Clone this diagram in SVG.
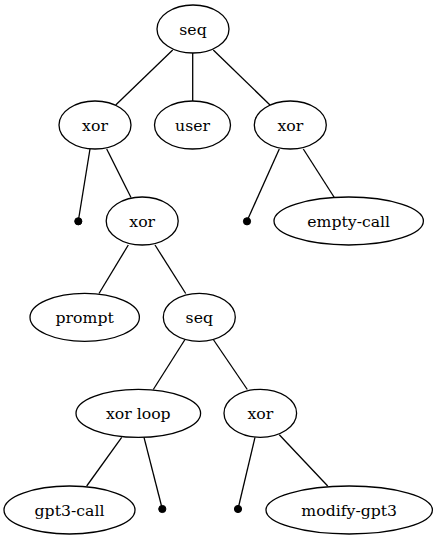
<svg xmlns="http://www.w3.org/2000/svg" width="437" height="539" viewBox="0 0 437 539">
<style>
.n ellipse{fill:none;stroke:#000;stroke-width:1.3}
.n text{font-family:'DejaVu Serif',serif;font-size:15.7px;text-anchor:middle;fill:#000}
.p circle{fill:#000;stroke:#000;stroke-width:1}
#edges line{stroke:#000;stroke-width:1.3}
</style>
<rect width="437" height="539" fill="#fff"/>
<g id="edges">
<line x1="172.7" y1="50" x2="115.7" y2="105"/>
<line x1="192.7" y1="53" x2="192.7" y2="101"/>
<line x1="213.3" y1="50" x2="270" y2="105"/>
<line x1="90" y1="149" x2="78.3" y2="221"/>
<line x1="106.7" y1="149" x2="131" y2="197.5"/>
<line x1="279.3" y1="149" x2="247" y2="221"/>
<line x1="303.3" y1="149" x2="334.3" y2="197.5"/>
<line x1="128.3" y1="245" x2="99" y2="293.5"/>
<line x1="155" y1="245" x2="185.7" y2="293.5"/>
<line x1="185" y1="339.5" x2="153.3" y2="389.5"/>
<line x1="213.3" y1="339.5" x2="247.3" y2="389.5"/>
<line x1="121.7" y1="437.3" x2="86.7" y2="486"/>
<line x1="144" y1="437.3" x2="162.3" y2="509"/>
<line x1="255" y1="437.3" x2="238" y2="509"/>
<line x1="279.3" y1="434.7" x2="327.7" y2="486"/>
</g>
<g id="seq1" class="n"><ellipse cx="193" cy="29" rx="36" ry="24"/><text x="193" y="35">seq</text></g>
<g id="xor1" class="n"><ellipse cx="95" cy="125" rx="36" ry="24"/><text x="95" y="131">xor</text></g>
<g id="user" class="n"><ellipse cx="192.5" cy="125" rx="38" ry="24"/><text x="192.5" y="131">user</text></g>
<g id="xor2" class="n"><ellipse cx="290.3" cy="125" rx="36" ry="24"/><text x="290.3" y="131">xor</text></g>
<g id="tau1" class="p"><circle cx="78.3" cy="221.3" r="3.6"/></g>
<g id="xor3" class="n"><ellipse cx="142.2" cy="221" rx="36" ry="24"/><text x="142.2" y="227">xor</text></g>
<g id="tau2" class="p"><circle cx="247" cy="221.3" r="3.6"/></g>
<g id="emptycall" class="n"><ellipse cx="348.7" cy="221" rx="74.7" ry="24"/><text x="348.7" y="227">empty-call</text></g>
<g id="prompt" class="n"><ellipse cx="84.7" cy="317.3" rx="54.7" ry="24"/><text x="84.7" y="323.3">prompt</text></g>
<g id="seq2" class="n"><ellipse cx="199.3" cy="317.3" rx="36" ry="24"/><text x="199.3" y="323.3">seq</text></g>
<g id="xorloop" class="n"><ellipse cx="138.3" cy="413.3" rx="62.3" ry="24"/><text x="138.3" y="419.3">xor loop</text></g>
<g id="xor4" class="n"><ellipse cx="260.3" cy="413.3" rx="36.3" ry="24"/><text x="260.3" y="419.3">xor</text></g>
<g id="gpt3call" class="n"><ellipse cx="69.5" cy="510" rx="65.5" ry="24"/><text x="69.5" y="516">gpt3-call</text></g>
<g id="tau3" class="p"><circle cx="162.3" cy="509" r="3.6"/></g>
<g id="tau4" class="p"><circle cx="238" cy="509" r="3.6"/></g>
<g id="modifygpt3" class="n"><ellipse cx="349.2" cy="510" rx="83.2" ry="24"/><text x="349.2" y="516">modify-gpt3</text></g>
</svg>
